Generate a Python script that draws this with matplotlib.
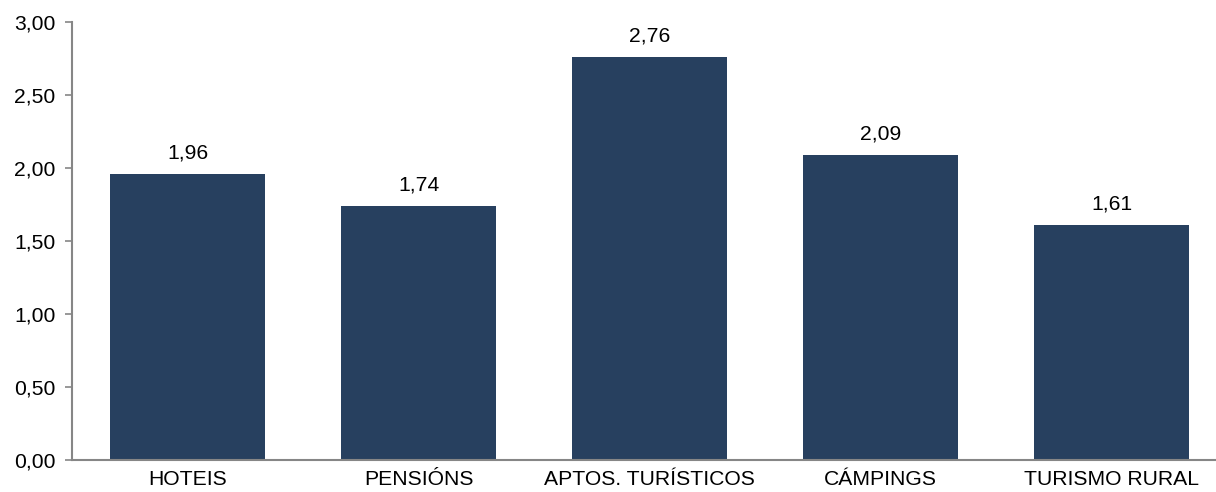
import matplotlib
matplotlib.use("Agg")
import matplotlib.pyplot as plt
from matplotlib.ticker import FuncFormatter

categories = ["HOTEIS", "PENSIÓNS", "APTOS. TURÍSTICOS", "CÁMPINGS", "TURISMO RURAL"]
values = [1.96, 1.74, 2.76, 2.09, 1.61]
yticks = [0.0, 0.5, 1.0, 1.5, 2.0, 2.5, 3.0]

plt.rcParams['font.family'] = ['Liberation Sans', 'DejaVu Sans']

fig = plt.figure(figsize=(12.16, 4.92), dpi=100)
W, H = 1216, 492
ax = fig.add_axes([72 / W, 1 - 460 / H, 1155 / W, (460 - 22) / H])

x = list(range(len(categories)))
bars = ax.bar(x, values, width=0.667, color="#27405F", zorder=2)

FS = 15.2
for xi, v in zip(x, values):
    ax.annotate(f"{v:.2f}".replace(".", ","), (xi, v), xytext=(0, 8),
                textcoords="offset points", ha="center", va="bottom",
                fontsize=FS, color="black")

ax.set_xlim(-0.5, len(categories) - 0.5)
ax.set_ylim(0, 3.0)
ax.set_yticks(yticks)
ax.yaxis.set_major_formatter(FuncFormatter(lambda v, p: f"{v:.2f}".replace(".", ",")))
ax.set_xticks(x)
ax.set_xticklabels(categories)

for s in ["top", "right"]:
    ax.spines[s].set_visible(False)
for s in ["left", "bottom"]:
    ax.spines[s].set_color("#868686")
    ax.spines[s].set_linewidth(1.5)

ax.tick_params(axis="y", direction="out", length=5, width=1.2, color="#868686",
               labelsize=FS, pad=7)
ax.tick_params(axis="x", length=0, labelsize=FS, pad=7)

fig.savefig("out.png", dpi=100)
